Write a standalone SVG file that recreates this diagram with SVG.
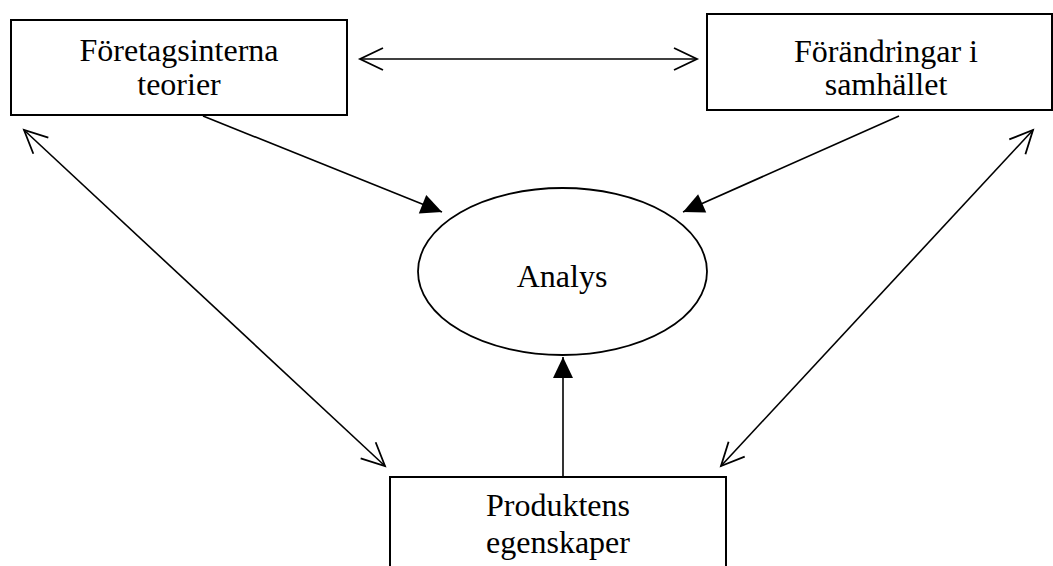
<svg xmlns="http://www.w3.org/2000/svg" width="1053" height="566" viewBox="0 0 1053 566">
<style>
.box{fill:#fff;stroke:#000;stroke-width:2}
.lbl{font-family:"Liberation Serif","Times New Roman",serif;font-size:32px;fill:#000;text-anchor:middle}
.ln{stroke:#000;stroke-width:1.6;fill:none}
</style>
<defs>
<marker id="open" markerUnits="userSpaceOnUse" viewBox="-26 -14 30 28" refX="0" refY="0" markerWidth="30" markerHeight="28" orient="auto-start-reverse">
<path d="M-23,-11 L0,0 L-23,11" fill="none" stroke="#000" stroke-width="1.8"/>
</marker>
<marker id="filled" markerUnits="userSpaceOnUse" viewBox="-22 -12 24 24" refX="0" refY="0" markerWidth="24" markerHeight="24" orient="auto">
<path d="M-21,-10 L0,0 L-21,10 Z" fill="#000"/>
</marker>
</defs>
<rect width="1053" height="566" fill="#fff"/>
<g id="connectors">
<line class="ln" x1="360" y1="59" x2="697" y2="59" marker-start="url(#open)" marker-end="url(#open)"/>
<line class="ln" x1="24" y1="130" x2="385" y2="466" marker-start="url(#open)" marker-end="url(#open)"/>
<line class="ln" x1="1033" y1="130" x2="721" y2="466" marker-start="url(#open)" marker-end="url(#open)"/>
<line class="ln" x1="203" y1="116" x2="442" y2="212" marker-end="url(#filled)"/>
<line class="ln" x1="899" y1="116" x2="683" y2="212" marker-end="url(#filled)"/>
<line class="ln" x1="563" y1="477" x2="563" y2="357" marker-end="url(#filled)"/>
</g>
<g id="foretagsinterna">
<rect class="box" x="11" y="20" width="336" height="95"/>
<text class="lbl" x="179" y="61">Företagsinterna</text>
<text class="lbl" x="179" y="95">teorier</text>
</g>
<g id="forandringar">
<rect class="box" x="707" y="14" width="345" height="96"/>
<text class="lbl" x="886" y="62">Förändringar i</text>
<text class="lbl" x="886" y="95">samhället</text>
</g>
<g id="analys">
<ellipse cx="562.5" cy="271.5" rx="144.5" ry="83.5" fill="#fff" stroke="#000" stroke-width="1.8"/>
<text class="lbl" x="562" y="287">Analys</text>
</g>
<g id="produktens">
<rect class="box" x="390" y="477" width="336" height="100"/>
<text class="lbl" x="558" y="516">Produktens</text>
<text class="lbl" x="558" y="553">egenskaper</text>
</g>
</svg>
